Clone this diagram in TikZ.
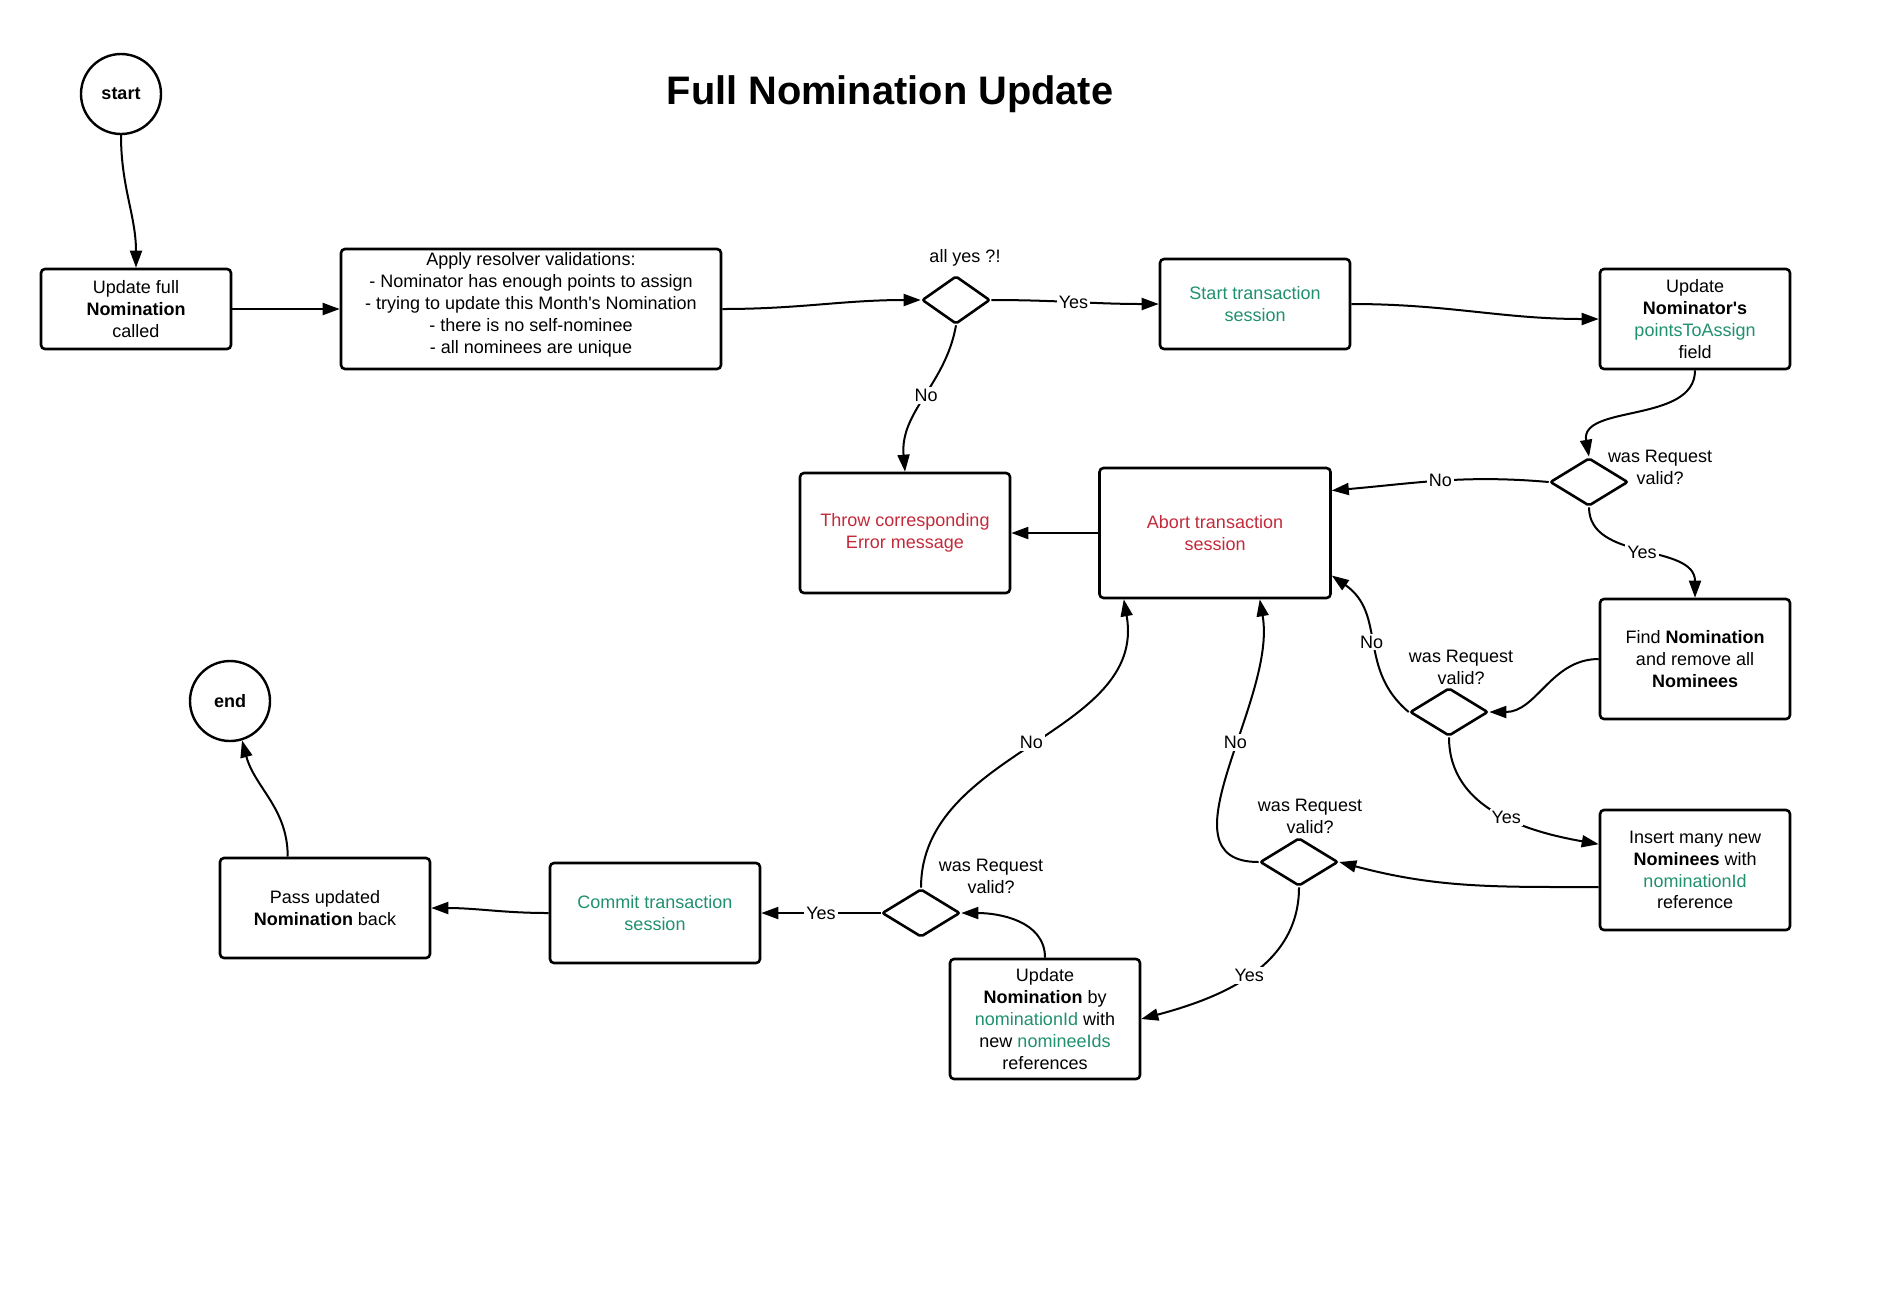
\documentclass[tikz,border=0pt]{standalone}
\usepackage{fontspec}
\setmainfont{Liberation Sans}[Ligatures=TeXOff]
\usetikzlibrary{shapes.geometric,arrows.meta}
\definecolor{txgreen}{HTML}{20906F}
\definecolor{errred}{HTML}{C22A3A}

\begin{document}
\begin{tikzpicture}[x=0.5pt,y=-0.5pt,
    every node/.style={font=\fontsize{9}{10.9}\selectfont},
    box/.style={draw,line width=1.3pt,rounded corners=2pt,align=center,inner sep=2pt},
    decision/.style={draw,diamond,line width=1.3pt,rounded corners=1pt,inner sep=0pt,
      minimum width=39pt,minimum height=24pt},
    terminal/.style={draw,circle,line width=1.2pt,minimum size=40pt,inner sep=0pt,
      font=\fontsize{9}{10.9}\selectfont\bfseries},
    answer/.style={fill=white,inner sep=1pt},
    flow/.style={line width=1pt,-{Triangle[length=8.5pt,width=6pt]}}]
  \useasboundingbox (0,0) rectangle (1898,1292);
  \node (title) at (890,94) {\fontsize{19.9}{24}\selectfont\bfseries Full Nomination Update};
  \node[terminal] (start) at (121,94) {start};
  \node[terminal] (finish) at (230,701) {end};
  \node[box,minimum width=95pt,minimum height=40pt] (update) at (136,309)
    {Update full\\\textbf{Nomination}\\called};
  \node[box,minimum width=190pt,minimum height=60pt,inner ysep=1pt,text depth=6pt] (apply) at (531,309)
    {Apply resolver validations:\\- Nominator has enough points to assign\\
     - trying to update this Month's Nomination\\- there is no self-nominee\\
     - all nominees are unique};
  \node[box,minimum width=95pt,minimum height=45pt,text=txgreen] (starttx) at (1255,304)
    {Start transaction\\session};
  \node[box,minimum width=95pt,minimum height=50pt] (points) at (1695,319)
    {Update\\\textbf{Nominator's}\\\textcolor{txgreen}{pointsToAssign}\\field};
  \node[box,minimum width=105pt,minimum height=60pt,text=errred] (throw) at (905,533)
    {Throw corresponding\\Error message};
  \node[box,minimum width=115.5pt,minimum height=65pt,text=errred] (abort) at (1215,533)
    {Abort transaction\\session};
  \node[box,minimum width=95pt,minimum height=60pt] (remove) at (1695,659)
    {Find \textbf{Nomination}\\and remove all\\\textbf{Nominees}};
  \node[box,minimum width=95pt,minimum height=60pt] (insert) at (1695,870)
    {Insert many new\\\textbf{Nominees} with\\\textcolor{txgreen}{nominationId}\\reference};
  \node[box,minimum width=95pt,minimum height=60pt] (refs) at (1045,1019)
    {Update\\\textbf{Nomination} by\\\textcolor{txgreen}{nominationId} with\\
     new \textcolor{txgreen}{nomineeIds}\\references};
  \node[box,minimum width=105pt,minimum height=50pt,text=txgreen] (commit) at (655,913)
    {Commit transaction\\session};
  \node[box,minimum width=105pt,minimum height=50pt] (pass) at (325,908)
    {Pass updated\\\textbf{Nomination} back};
  \node[decision,minimum width=34pt] (allyes) at (956,300) {};
  \node[decision] (valid1) at (1589,482) {};
  \node[decision] (valid2) at (1449,712) {};
  \node[decision] (valid3) at (1299,862) {};
  \node[decision] (valid4) at (921,913) {};
  \node (allyestxt) at (965,258) {all yes ?!};
  \node[align=center] (valid1txt) at (1660,467) {was Request\\valid?};
  \node[align=center] (valid2txt) at (1461,667) {was Request\\valid?};
  \node[align=center] (valid3txt) at (1310,816) {was Request\\valid?};
  \node[align=center] (valid4txt) at (991,876) {was Request\\valid?};
  \begin{scope}[flow]
    \draw (start.south) to[out=-90,in=90] (update.north);
    \draw (update.east) -- (apply.west);
    \draw (apply.east) to[out=0,in=180] (allyes.west);
    \draw (allyes.east) to[out=0,in=180] node[answer,pos=0.49]{Yes} (starttx.west);
    \draw (allyes.south) to[out=-100,in=95] node[answer,pos=0.48]{No} (throw.north);
    \draw (starttx.east) to[out=0,in=180] (points.west);
    \draw (points.south) to[out=-90,in=100] (valid1.north);
    \draw (valid1.west) to[out=175,in=5] node[answer,pos=0.5]{No} (abort.20);
    \draw (valid1.south) to[out=-90,in=90] node[answer,pos=0.5]{Yes} (remove.north);
    \draw (remove.west) to[out=180,in=0] (valid2.east);
    \draw (valid2.west) to[out=140,in=-35,looseness=1.1] node[answer,pos=0.5]{No} (abort.-20);
    \draw (valid2.south) to[out=-90,in=170] node[answer,pos=0.55]{Yes} (insert.165);
    \draw (insert.190) to[out=180,in=-15] (valid3.east);
    \draw (valid3.west) to[out=180,in=-80] node[answer,pos=0.58]{No} (abort.-56);
    \draw (valid3.south) to[out=-90,in=15] node[answer,pos=0.5]{Yes} (refs.east);
    \draw (refs.north) to[out=90,in=0] (valid4.east);
    \draw (valid4.north) to[out=90,in=-80] node[answer,pos=0.5]{No} (abort.-144);
    \draw (valid4.west) -- node[answer,pos=0.5]{Yes} (commit.east);
    \draw (commit.west) to[out=180,in=0] (pass.east);
    \draw (pass.126) to[out=90,in=-75] (finish.-73);
    \draw (abort.west) -- (throw.east);
  \end{scope}
\end{tikzpicture}
\end{document}
